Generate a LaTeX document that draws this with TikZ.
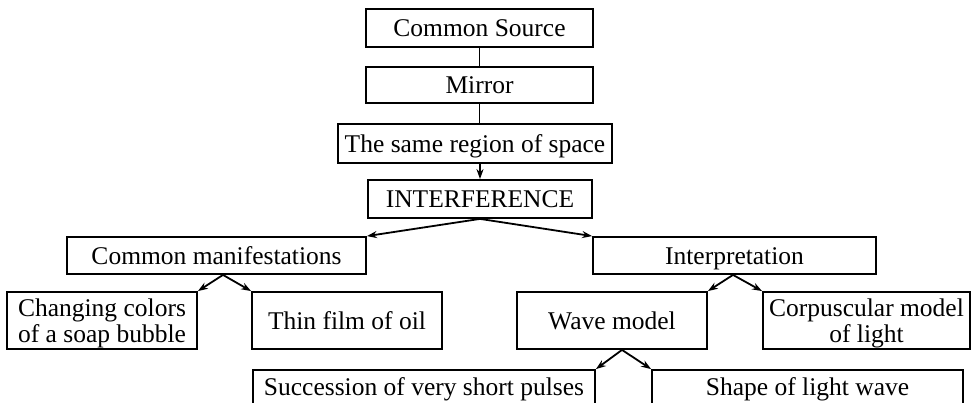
\documentclass[tikz,border=0pt]{standalone}
\usepackage{fontspec}
\setmainfont{Liberation Serif}
\usetikzlibrary{arrows.meta}
\tikzset{
  box/.style={draw, line width=1.8pt, inner sep=0pt, align=center,
    font=\fontsize{25.5}{26}\selectfont, text depth=0pt},
  link/.style={line width=1.8pt},
  arr/.style={line width=1.8pt, -{Stealth[length=10pt,width=7pt]}}
}
\newcommand{\topstrut}{\rule{0pt}{17.6pt}}
\begin{document}
\begin{tikzpicture}[x=1pt,y=-1pt]
\useasboundingbox (0,0) rectangle (977,403);
\clip (0,0) rectangle (977,403);
\node[box, minimum width=227pt, minimum height=38pt] (cs) at (479.5,28) {\topstrut Common Source};
\node[box, minimum width=227pt, minimum height=36pt] (mir) at (479.5,85) {\topstrut Mirror};
\node[box, minimum width=274pt, minimum height=39pt] (same) at (475,143.5) {\topstrut The same region of space};
\node[box, minimum width=224pt, minimum height=38pt] (intf) at (480,199) {\topstrut INTERFERENCE};
\node[box, minimum width=299pt, minimum height=37pt] (cm) at (216.5,255.5) {\topstrut Common manifestations};
\node[box, minimum width=283pt, minimum height=37pt] (interp) at (734.5,255.5) {\topstrut Interpretation};
\node[box, minimum width=190pt, minimum height=57pt] (chg) at (102,320.5) {\topstrut Changing colors\\of a soap bubble};
\node[box, minimum width=190pt, minimum height=57pt] (thin) at (347,320.5) {\topstrut Thin film of oil};
\node[box, minimum width=190pt, minimum height=57pt] (wave) at (612,320.5) {\topstrut Wave model};
\node[box, minimum width=207pt, minimum height=57pt] (corp) at (866.5,320.5) {\topstrut Corpuscular model\\of light};
\node[box, minimum width=342pt, minimum height=34pt] (succ) at (424,387) {\topstrut Succession of very short pulses};
\node[box, minimum width=311pt, minimum height=34pt] (shape) at (807.5,387) {\topstrut Shape of light wave};
\coordinate (cmA) at ([xshift=6.5pt]cm.south);
\coordinate (inA) at ([xshift=-1.5pt]interp.south);
\coordinate (wvA) at ([xshift=10pt]wave.south);
\draw[link] (cs.south) -- (mir.north);
\draw[link] (mir.south) -- (mir.south |- same.north);
\draw[arr] (intf.north |- same.south) -- (intf.north);
\draw[arr] (intf.south) -- (cm.north east);
\draw[arr] (intf.south) -- (interp.north west);
\draw[arr] (cmA) -- (chg.north east);
\draw[arr] (cmA) -- (thin.north west);
\draw[arr] (inA) -- (wave.north east);
\draw[arr] (inA) -- (corp.north west);
\draw[arr] (wvA) -- (succ.north east);
\draw[arr] (wvA) -- (shape.north west);
\end{tikzpicture}
\end{document}
